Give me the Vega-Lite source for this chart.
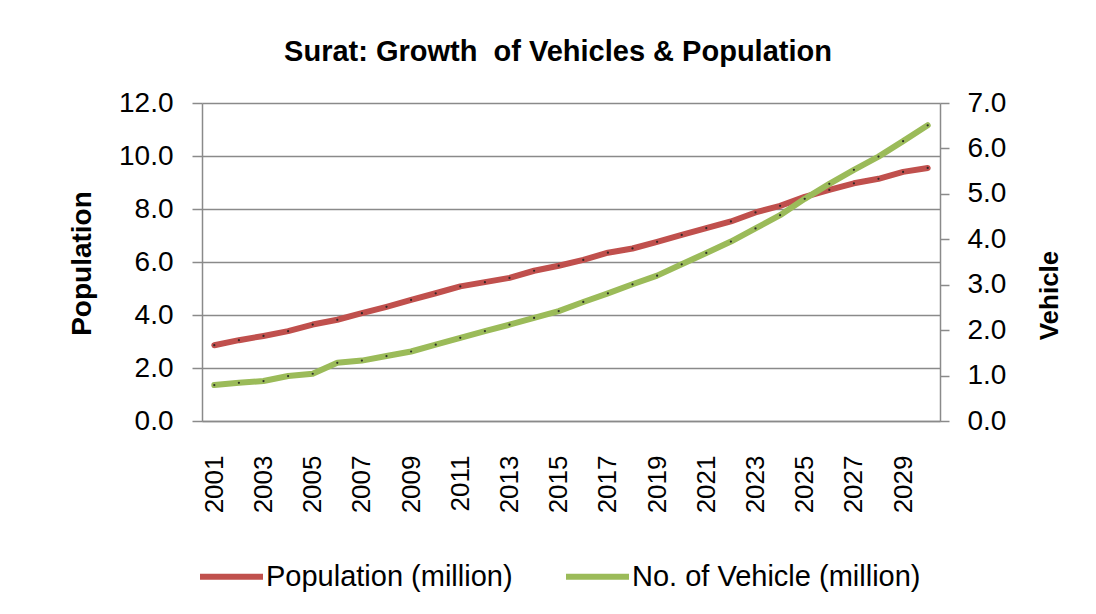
{
  "$schema": "https://vega.github.io/schema/vega-lite/v6.json",
  "autosize": {"type": "none"},
  "width": 738,
  "height": 318,
  "padding": {"left": 202, "top": 103, "right": 156, "bottom": 193},
  "background": "white",
  "config": {
    "view": {"stroke": null},
    "font": "Liberation Sans"
  },
  "title": {
    "text": "Surat: Growth\u00a0 of Vehicles & Population",
    "font": "Liberation Sans",
    "fontSize": 29,
    "fontWeight": "bold",
    "color": "#000000",
    "anchor": "middle",
    "frame": "group",
    "dx": -13,
    "offset": 22
  },
  "data": {
    "values": [
      {"year": 2001, "population": 2.86, "vehicle": 0.79},
      {"year": 2002, "population": 3.05, "vehicle": 0.84},
      {"year": 2003, "population": 3.21, "vehicle": 0.88},
      {"year": 2004, "population": 3.39, "vehicle": 0.99},
      {"year": 2005, "population": 3.64, "vehicle": 1.04},
      {"year": 2006, "population": 3.82, "vehicle": 1.28},
      {"year": 2007, "population": 4.07, "vehicle": 1.33},
      {"year": 2008, "population": 4.31, "vehicle": 1.43},
      {"year": 2009, "population": 4.57, "vehicle": 1.53},
      {"year": 2010, "population": 4.82, "vehicle": 1.68},
      {"year": 2011, "population": 5.08, "vehicle": 1.83},
      {"year": 2012, "population": 5.24, "vehicle": 1.98},
      {"year": 2013, "population": 5.40, "vehicle": 2.12},
      {"year": 2014, "population": 5.67, "vehicle": 2.27},
      {"year": 2015, "population": 5.86, "vehicle": 2.42},
      {"year": 2016, "population": 6.08, "vehicle": 2.62},
      {"year": 2017, "population": 6.35, "vehicle": 2.81},
      {"year": 2018, "population": 6.51, "vehicle": 3.01},
      {"year": 2019, "population": 6.76, "vehicle": 3.20},
      {"year": 2020, "population": 7.02, "vehicle": 3.45},
      {"year": 2021, "population": 7.28, "vehicle": 3.70},
      {"year": 2022, "population": 7.53, "vehicle": 3.95},
      {"year": 2023, "population": 7.87, "vehicle": 4.24},
      {"year": 2024, "population": 8.12, "vehicle": 4.53},
      {"year": 2025, "population": 8.46, "vehicle": 4.89},
      {"year": 2026, "population": 8.72, "vehicle": 5.22},
      {"year": 2027, "population": 8.97, "vehicle": 5.53},
      {"year": 2028, "population": 9.14, "vehicle": 5.82},
      {"year": 2029, "population": 9.40, "vehicle": 6.16},
      {"year": 2030, "population": 9.55, "vehicle": 6.51}
    ]
  },
  "encoding": {
    "x": {
      "field": "year",
      "type": "ordinal",
      "axis": {
        "title": null,
        "values": [2001, 2003, 2005, 2007, 2009, 2011, 2013, 2015, 2017, 2019, 2021, 2023, 2025, 2027, 2029],
        "labelAngle": -90,
        "labelFont": "Liberation Sans",
        "labelFontSize": 26,
        "labelColor": "#000000",
        "labelPadding": 34,
        "ticks": false,
        "tickSize": 0,
        "domainColor": "#8a8a8a",
        "domainWidth": 1.5,
        "grid": false
      }
    }
  },
  "layer": [
    {
      "layer": [
        {
          "mark": {"type": "line", "strokeWidth": 6, "strokeCap": "round", "strokeJoin": "round"},
          "encoding": {
            "y": {
              "field": "population",
              "type": "quantitative",
              "scale": {"domain": [0, 12], "nice": false},
              "axis": {
                "orient": "left",
                "title": "Population",
                "titleFont": "Liberation Sans",
                "titleFontSize": 28,
                "titleFontWeight": "bold",
                "titleColor": "#000000",
                "titleAngle": 270,
                "titleAlign": "center",
                "titleBaseline": "middle",
                "titleX": -120,
                "titleY": 160,
                "values": [0, 2, 4, 6, 8, 10, 12],
                "format": ".1f",
                "labelFont": "Liberation Sans",
                "labelFontSize": 28,
                "labelColor": "#000000",
                "labelPadding": 19,
                "tickSize": 10,
                "tickColor": "#8a8a8a",
                "tickWidth": 1.5,
                "domainColor": "#8a8a8a",
                "domainWidth": 1.5,
                "grid": true,
                "gridColor": "#8a8a8a",
                "gridWidth": 1.5,
                "gridOpacity": 1
              }
            },
            "color": {
              "datum": "Population (million)",
              "type": "nominal",
              "scale": {
                "domain": ["Population (million)", "No. of Vehicle (million)"],
                "range": ["#C0504D", "#9BBB59"]
              },
              "legend": {
                "title": null,
                "orient": "none",
                "legendX": -5,
                "legendY": 439,
                "direction": "horizontal",
                "padding": 0,
                "symbolType": "stroke",
                "symbolSize": 3969,
                "symbolStrokeWidth": 6,
                "labelFont": "Liberation Sans",
                "labelFontSize": 29,
                "labelColor": "#000000",
                "labelOffset": 0,
                "labelLimit": 0,
                "columnPadding": 41
              }
            }
          }
        },
        {
          "mark": {"type": "point", "filled": true, "size": 5, "color": "#222222", "opacity": 0.9},
          "encoding": {
            "y": {"field": "population", "type": "quantitative"}
          }
        }
      ]
    },
    {
      "layer": [
        {
          "mark": {"type": "line", "strokeWidth": 6, "strokeCap": "round", "strokeJoin": "round"},
          "encoding": {
            "y": {
              "field": "vehicle",
              "type": "quantitative",
              "scale": {"domain": [0, 7], "nice": false},
              "axis": {
                "orient": "right",
                "title": "Vehicle",
                "titleFont": "Liberation Sans",
                "titleFontSize": 26,
                "titleFontWeight": "bold",
                "titleColor": "#000000",
                "titleAngle": 270,
                "titleAlign": "center",
                "titleBaseline": "middle",
                "titleX": 109,
                "titleY": 192,
                "values": [0, 1, 2, 3, 4, 5, 6, 7],
                "format": ".1f",
                "labelFont": "Liberation Sans",
                "labelFontSize": 28,
                "labelColor": "#000000",
                "labelPadding": 18,
                "tickSize": 9,
                "tickColor": "#8a8a8a",
                "tickWidth": 1.5,
                "domainColor": "#8a8a8a",
                "domainWidth": 1.5,
                "grid": false
              }
            },
            "color": {"datum": "No. of Vehicle (million)", "type": "nominal"}
          }
        },
        {
          "mark": {"type": "point", "filled": true, "size": 5, "color": "#222222", "opacity": 0.9},
          "encoding": {
            "y": {"field": "vehicle", "type": "quantitative"}
          }
        }
      ]
    }
  ],
  "resolve": {"scale": {"y": "independent"}}
}
